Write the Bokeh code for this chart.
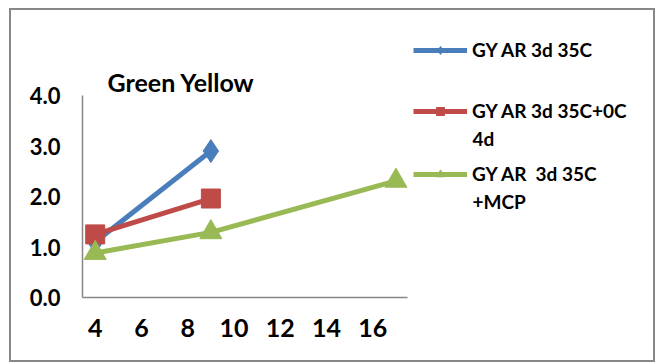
from bokeh.plotting import figure
from bokeh.models import (Range1d, FixedTicker, Legend, LegendItem, Label,
                          NumeralTickFormatter)
from bokeh.embed import file_html
from bokeh.resources import INLINE

# ---- data ----
title_text = "Green Yellow"
x_ticks = [4, 6, 8, 10, 12, 14, 16]
y_ticks = [0, 1, 2, 3, 4]
x_min, x_max = 3.45, 17.5
y_min, y_max = 0.0, 4.0

s1_name = "GY AR 3d 35C"
s1_x = [4, 9]
s1_y = [1.1, 2.9]

s2_name = "GY AR 3d 35C+0C"
s2_name2 = "4d"
s2_x = [4, 9]
s2_y = [1.25, 1.96]

s3_name = "GY AR  3d 35C"
s3_name2 = "+MCP"
s3_x = [4, 9, 17]
s3_y = [0.88, 1.29, 2.31]

BLUE = "#4A7EBB"
RED = "#BE4B48"
GREEN = "#98B954"
AXIS = "#868686"
FONT = "Lato"

# page layout (px): a 2px border box drawn at (9,8)-(655,362)
OX, OY = 11, 10
W, H = 646, 354
AX_L, AX_R, AX_T, AX_B = 82, 407, 95, 297   # plot-area (axes) box on the page
# the frame spans from the y axis to the right edge and from the top to the x axis,
# so that the legend and title (drawn in frame space) are not clipped
FL, FR, FT, FB = AX_L - OX, W - 8, 0, AX_B - OY
px_x = (AX_R - AX_L) / (x_max - x_min)
px_y = (AX_B - AX_T) / (y_max - y_min)
x_end = x_min + (FR - FL) / px_x
y_end = y_min + (FB - FT) / px_y

p = figure(width=W, height=H, output_backend="svg", toolbar_location=None,
           x_range=Range1d(x_min, x_end), y_range=Range1d(y_min, y_end),
           min_border_left=FL, min_border_right=W - FR,
           min_border_top=FT, min_border_bottom=H - FB)
p.styles = {"border": "2px solid #878787", "margin-left": "9px", "margin-top": "8px"}
p.outline_line_color = None
p.grid.visible = False

for ax in (p.xaxis[0], p.yaxis[0]):
    ax.axis_line_color = AXIS
    ax.axis_line_width = 1.5
    ax.major_tick_line_color = None
    ax.minor_tick_line_color = None
    ax.major_tick_out = 0
    ax.major_tick_in = 0
    ax.major_label_text_font = FONT
    ax.major_label_text_font_style = "bold"
    ax.major_label_text_color = "black"

p.xaxis.bounds = (x_min, x_max)
p.yaxis.bounds = (y_min, y_max)
p.xaxis.ticker = FixedTicker(ticks=x_ticks)
p.yaxis.ticker = FixedTicker(ticks=y_ticks)
p.yaxis.formatter = NumeralTickFormatter(format="0.0")
p.xaxis.major_label_text_font_size = "25px"
p.yaxis.major_label_text_font_size = "22px"
p.xaxis.major_label_standoff = 21
p.yaxis.major_label_standoff = 22

l1 = p.line(s1_x, s1_y, line_color=BLUE, line_width=5)
m1 = p.scatter(s1_x, s1_y, marker="diamond", size=23, fill_color=BLUE, line_color=BLUE)
l2 = p.line(s2_x, s2_y, line_color=RED, line_width=5)
m2 = p.scatter(s2_x, s2_y, marker="square", size=19, fill_color=RED, line_color=RED)
l3 = p.line(s3_x, s3_y, line_color=GREEN, line_width=5)
m3 = p.scatter(s3_x, s3_y, marker="triangle", size=22, fill_color=GREEN, line_color=GREEN)

LEG_X = 413  # page x of legend glyph start
def make_legend(name, renderers, center_y):
    lg = Legend(items=[LegendItem(label=name, renderers=renderers)],
                location=(LEG_X - AX_L, AX_B - (center_y + 10)),
                padding=0, margin=0, spacing=0,
                glyph_width=54, glyph_height=20, label_height=20,
                label_standoff=5,
                border_line_color=None, background_fill_alpha=0,
                label_text_font=FONT, label_text_font_style="bold",
                label_text_font_size="19px", label_text_color="black")
    p.add_layout(lg, "center")

make_legend(s1_name, [l1, m1], 51)
make_legend(s2_name, [l2, m2], 112)
make_legend(s3_name, [l3, m3], 175)

for txt, cy in ((s2_name2, 138), (s3_name2, 201)):
    p.add_layout(Label(x=LEG_X + 59 - AX_L, y=AX_B - cy, x_units="screen", y_units="screen",
                       text=txt, text_font=FONT, text_font_style="bold",
                       text_font_size="19px", text_baseline="middle",
                       text_color="black"))

p.add_layout(Label(x=107 - AX_L, y=AX_B - 81, x_units="screen", y_units="screen",
                   text=title_text, text_font=FONT, text_font_style="bold",
                   text_font_size="25px", text_baseline="middle",
                   text_color="black"))

open("out.html", "w").write(file_html(p, INLINE))
